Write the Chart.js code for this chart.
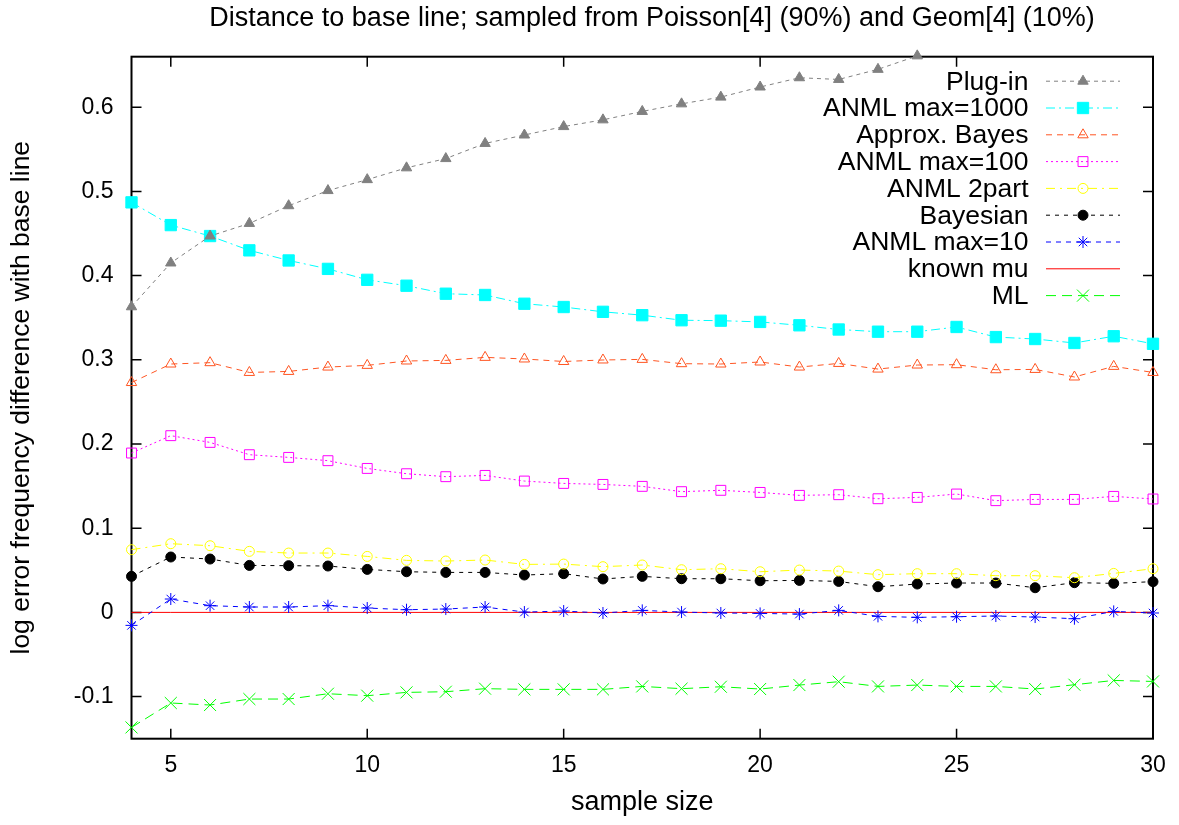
<!DOCTYPE html>
<html>
<head>
<meta charset="utf-8">
<title>Distance to base line</title>
<script src="https://cdn.jsdelivr.net/npm/chart.js"></script>
<style>
  html, body { margin: 0; padding: 0; background: #ffffff; }
  #wrap { width: 1179px; height: 825px; }
</style>
</head>
<body>
<div id="wrap"><canvas id="chart" width="1179" height="825"></canvas></div>
<script>
// sample sizes on the x axis
const sampleSizes = [4, 5, 6, 7, 8, 9, 10, 11, 12, 13, 14, 15, 16, 17, 18, 19, 20, 21, 22, 23, 24, 25, 26, 27, 28, 29, 30];

// log error frequency difference with base line, one array per estimator
const plugIn = [0.363, 0.415, 0.447, 0.462, 0.483, 0.501, 0.514, 0.528, 0.539, 0.557, 0.567, 0.577, 0.585, 0.595, 0.604, 0.612, 0.624, 0.635, 0.633, 0.645, 0.661, null, null, null, null, null, null];
const anmlMax1000 = [0.487, 0.460, 0.447, 0.430, 0.418, 0.408, 0.395, 0.388, 0.3785, 0.377, 0.3666, 0.3627, 0.357, 0.353, 0.347, 0.3465, 0.345, 0.341, 0.336, 0.3334, 0.3334, 0.339, 0.327, 0.3247, 0.320, 0.328, 0.319];
const approxBayes = [0.273, 0.295, 0.2966, 0.285, 0.2862, 0.2914, 0.2934, 0.2986, 0.2993, 0.3029, 0.301, 0.298, 0.2998, 0.3005, 0.2954, 0.295, 0.2974, 0.2914, 0.2957, 0.289, 0.2938, 0.2942, 0.2882, 0.2886, 0.2796, 0.2922, 0.285];
const anmlMax100 = [0.1893, 0.2099, 0.2019, 0.1873, 0.1841, 0.1802, 0.171, 0.1647, 0.1612, 0.1627, 0.156, 0.1532, 0.152, 0.1497, 0.1434, 0.145, 0.1425, 0.139, 0.1398, 0.135, 0.1366, 0.1406, 0.1327, 0.1342, 0.1342, 0.1378, 0.1347];
const anml2part = [0.0745, 0.0816, 0.0792, 0.0725, 0.0705, 0.0705, 0.0665, 0.0618, 0.061, 0.0622, 0.057, 0.0574, 0.0543, 0.0563, 0.0507, 0.0519, 0.0483, 0.0503, 0.0491, 0.0448, 0.046, 0.046, 0.0436, 0.0436, 0.0412, 0.0463, 0.0519];
const bayesian = [0.0428, 0.0658, 0.0634, 0.0558, 0.0555, 0.0551, 0.0511, 0.0483, 0.0475, 0.0475, 0.0444, 0.046, 0.0397, 0.0428, 0.040, 0.040, 0.0376, 0.038, 0.0368, 0.0305, 0.0337, 0.0349, 0.0349, 0.0293, 0.0353, 0.0345, 0.0365];
const anmlMax10 = [-0.0154, 0.0159, 0.008, 0.0064, 0.0064, 0.008, 0.0052, 0.0032, 0.004, 0.0064, 0.0004, 0.0016, -0.0007, 0.0024, 0.0004, -0.0007, -0.0012, -0.002, 0.0024, -0.0047, -0.0059, -0.0051, -0.0043, -0.0055, -0.0075, 0.0012, -0.0007];
const knownMu = [0, 0, 0, 0, 0, 0, 0, 0, 0, 0, 0, 0, 0, 0, 0, 0, 0, 0, 0, 0, 0, 0, 0, 0, 0, 0, 0];
const ml = [-0.1366, -0.1076, -0.110, -0.1029, -0.1029, -0.0966, -0.0989, -0.095, -0.0942, -0.0906, -0.0914, -0.0914, -0.0914, -0.0879, -0.0906, -0.0883, -0.091, -0.0863, -0.0823, -0.0879, -0.0863, -0.0879, -0.0879, -0.091, -0.0859, -0.0808, -0.082];

// axis ticks
const xTicks = [5, 10, 15, 20, 25, 30];
const yTicks = [-0.1, 0, 0.1, 0.2, 0.3, 0.4, 0.5, 0.6];

const chartTitle = 'Distance to base line; sampled from Poisson[4] (90%) and Geom[4] (10%)';

const FONT = "'Liberation Sans', Arial, Helvetica, sans-serif";

function points(values) {
  return sampleSizes.map((x, i) => ({ x: x, y: values[i] }));
}

function series(label, values, color, dash, style, radius, filled) {
  return {
    label: label,
    data: points(values),
    borderColor: color,
    borderWidth: 1,
    borderDash: dash,
    pointStyle: style,
    pointRadius: radius,
    pointHoverRadius: radius,
    pointBorderColor: color,
    pointBackgroundColor: filled ? color : 'rgba(0,0,0,0)',
    pointBorderWidth: 1,
    tension: 0,
    fill: false,
    clip: false
  };
}

const datasets = [
  series('Plug-in', plugIn, '#808080', [4, 4], 'triangle', 6, true),
  series('ANML max=1000', anmlMax1000, '#00ffff', [9, 4, 2, 4], 'rect', 8, true),
  series('Approx. Bayes', approxBayes, '#ff5522', [6, 5], 'triangle', 6, false),
  series('ANML max=100', anmlMax100, '#ff00ff', [2, 3], 'rect', 7, false),
  series('ANML 2part', anml2part, '#ffff00', [9, 5, 2, 5], 'circle', 5, false),
  series('Bayesian', bayesian, '#000000', [4, 5], 'circle', 5, true),
  series('ANML max=10', anmlMax10, '#0000ff', [5, 5], 'star', 6, false),
  series('known mu', knownMu, '#ff0000', [], false, 0, false),
  series('ML', ml, '#00ff00', [10, 6], 'crossRot', 8.5, false)
];

// heading above the plot
const headingPlugin = {
  id: 'heading',
  afterDraw(chart) {
    const { ctx } = chart;
    ctx.save();
    ctx.font = '27px ' + FONT;
    ctx.fillStyle = '#000';
    ctx.textAlign = 'center';
    ctx.textBaseline = 'middle';
    ctx.fillText(chartTitle, 652, 19);
    ctx.restore();
  }
};

// plot frame with inward ticks on all four sides
const framePlugin = {
  id: 'frame',
  beforeDatasetsDraw(chart) {
    const { ctx, chartArea: a, scales } = chart;
    const len = 10;
    ctx.save();
    ctx.strokeStyle = '#000';
    ctx.lineWidth = 1.5;
    ctx.beginPath();
    xTicks.forEach(v => {
      const px = scales.x.getPixelForValue(v);
      ctx.moveTo(px, a.bottom); ctx.lineTo(px, a.bottom - len);
      ctx.moveTo(px, a.top); ctx.lineTo(px, a.top + len);
    });
    yTicks.forEach(v => {
      const py = scales.y.getPixelForValue(v);
      ctx.moveTo(a.left, py); ctx.lineTo(a.left + len, py);
      ctx.moveTo(a.right, py); ctx.lineTo(a.right - len, py);
    });
    ctx.stroke();
    ctx.lineWidth = 2;
    ctx.strokeRect(a.left, a.top, a.right - a.left, a.bottom - a.top);
    ctx.restore();
  }
};

// key in the upper right corner: label, line sample, marker
const keyPlugin = {
  id: 'key',
  afterDraw(chart) {
    const { ctx, chartArea: a } = chart;
    const textRight = a.right - 124.5;
    const lineStart = a.right - 107;
    const lineEnd = a.right - 33;
    const mid = (lineStart + lineEnd) / 2;
    ctx.save();
    ctx.font = '26.5px ' + FONT;
    ctx.textAlign = 'right';
    ctx.textBaseline = 'middle';
    chart.data.datasets.forEach((ds, i) => {
      const y = a.top + 24.5 + i * 26.8;
      ctx.fillStyle = '#000';
      ctx.fillText(ds.label, textRight, y + 1);
      ctx.strokeStyle = ds.borderColor;
      ctx.lineWidth = ds.borderWidth;
      ctx.setLineDash(ds.borderDash || []);
      ctx.beginPath();
      ctx.moveTo(lineStart, y);
      ctx.lineTo(lineEnd, y);
      ctx.stroke();
      ctx.setLineDash([]);
      if (ds.pointStyle && ds.pointRadius > 0) {
        ctx.fillStyle = ds.pointBackgroundColor;
        ctx.strokeStyle = ds.pointBorderColor;
        ctx.lineWidth = ds.pointBorderWidth;
        Chart.helpers.drawPoint(ctx, {
          pointStyle: ds.pointStyle,
          radius: ds.pointRadius,
          rotation: 0,
          borderWidth: ds.pointBorderWidth
        }, mid, y);
      }
    });
    ctx.restore();
  }
};

new Chart(document.getElementById('chart'), {
  type: 'line',
  data: { datasets: datasets },
  plugins: [headingPlugin, framePlugin, keyPlugin],
  options: {
    responsive: false,
    animation: false,
    events: [],
    layout: { padding: { left: 0, right: 26, top: 56.7, bottom: 0 } },
    plugins: {
      legend: { display: false },
      tooltip: { enabled: false },
      title: { display: false }
    },
    scales: {
      x: {
        type: 'linear',
        min: 4,
        max: 30,
        grid: { display: false, drawTicks: false },
        border: { display: false },
        afterBuildTicks(scale) { scale.ticks = xTicks.map(v => ({ value: v })); },
        afterFit(scale) { scale.height = 86.3; },
        ticks: {
          color: '#000',
          padding: 13,
          maxRotation: 0,
          font: { family: FONT, size: 23 },
          callback: v => String(v)
        },
        title: {
          display: true,
          text: 'sample size',
          color: '#000',
          font: { family: FONT, size: 27, lineHeight: 1.2 },
          padding: { top: 0, bottom: 6 }
        }
      },
      y: {
        type: 'linear',
        min: -0.15,
        max: 0.66,
        grid: { display: false, drawTicks: false },
        border: { display: false },
        afterBuildTicks(scale) { scale.ticks = yTicks.map(v => ({ value: v })); },
        afterFit(scale) { scale.width = 131.5; },
        ticks: {
          color: '#000',
          padding: 18,
          font: { family: FONT, size: 23 },
          callback: v => (Math.abs(v) < 1e-9 ? '0' : v.toFixed(1))
        },
        title: {
          display: true,
          text: 'log error frequency difference with base line',
          color: '#000',
          font: { family: FONT, size: 26.5, lineHeight: 1.2 },
          padding: { top: 6, bottom: 0 }
        }
      }
    }
  }
});
</script>
</body>
</html>
